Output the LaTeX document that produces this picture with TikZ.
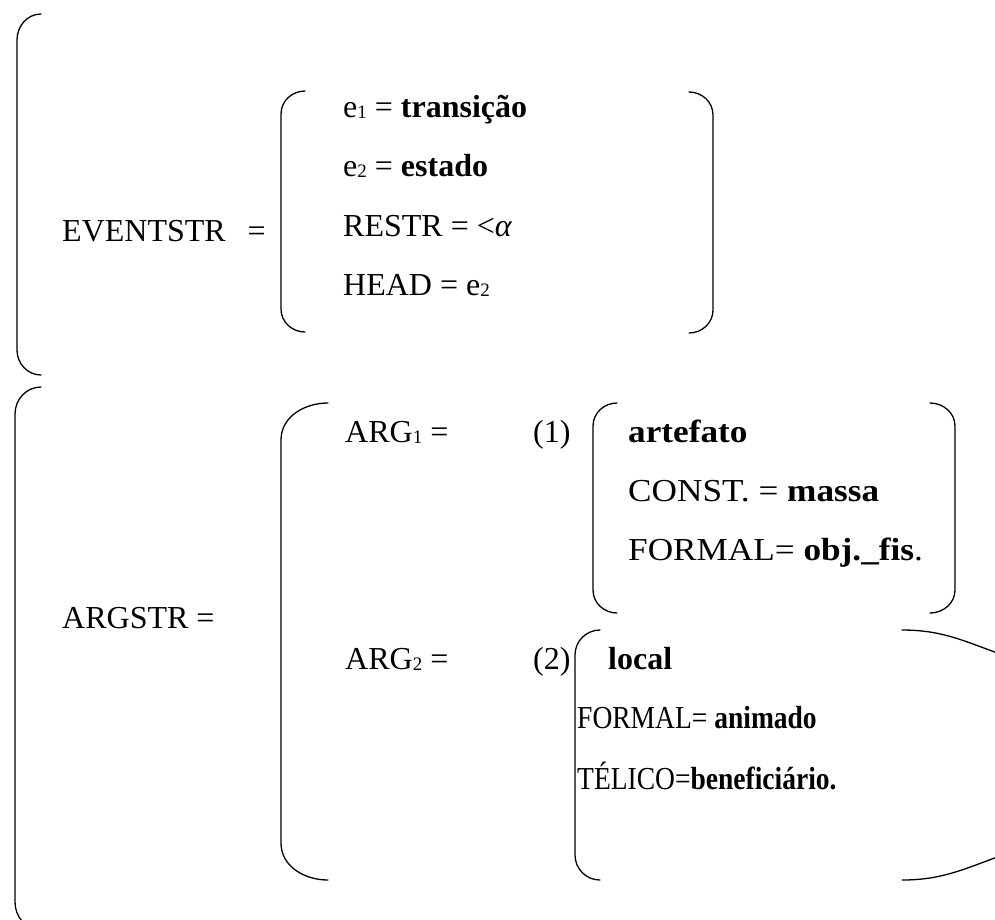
\documentclass[tikz,border=0pt]{standalone}
\usepackage{fontspec}
\setmainfont{Liberation Serif}
\newfontfamily\wideff[FakeStretch=1.1]{Liberation Serif}
\newfontfamily\narrowff[FakeStretch=0.86]{Liberation Serif}
\newcommand\sbs[1]{\raisebox{-1.5pt}{\fontsize{19}{19}\selectfont #1}}
\tikzset{
  lbl/.style={anchor=base west, inner sep=0pt, font=\fontsize{32}{38}\selectfont},
  brk/.style={line width=1.3pt, line cap=round},
}
\begin{document}
\begin{tikzpicture}[x=1pt,y=-1pt]
\useasboundingbox (0,0) rectangle (995,919);
\clip (0,0) rectangle (995,919);
% outer brackets
\draw[brk] (41,14) to[out=180,in=90] (17,40) -- (17,350) to[out=-90,in=180] (41,375);
\draw[brk] (41,387) to[out=180,in=90] (15,414) -- (15,902) to[out=-90,in=180] (41,930);
% EVENTSTR inner
\draw[brk] (305,91) to[out=180,in=90] (281,114) -- (281,309) to[out=-90,in=180] (305,332);
\draw[brk] (689,92) to[out=0,in=90] (713,115) -- (713,310) to[out=-90,in=0] (689,333);
% ARG big bracket
\draw[brk] (328,403) to[out=180,in=90] (281,440) -- (281,843) to[out=-90,in=180] (328,880);
% (1) bracket
\draw[brk] (617,403) to[out=180,in=90] (593,426) -- (593,590) to[out=-90,in=180] (617,613);
\draw[brk] (930,403) to[out=0,in=90] (955,426) -- (955,590) to[out=-90,in=0] (930,613);
% (2) bracket
\draw[brk] (600,630) to[out=180,in=90] (575,655) -- (575,855) to[out=-90,in=180] (600,880);
\draw[brk] (902,630) to[out=0,in=160] (1000,654);
\draw[brk] (902,880) to[out=0,in=-160] (1000,856);
% texts
\node[lbl] (ev) at (62,241) {EVENTSTR\hspace{22pt}=};
\node[lbl] (e1) at (343,117) {e\sbs{1} = \textbf{transição}};
\node[lbl] (e2) at (343,176) {e\sbs{2} = \textbf{estado}};
\node[lbl] (rs) at (343,236) {RESTR = <\textit{α}};
\node[lbl] (hd) at (343,295) {HEAD = e\sbs{2}};
\node[lbl] (as) at (62,628) {ARGSTR =};
\node[lbl] (a1) at (345,442) {ARG\sbs{1} =};
\node[lbl] (n1) at (533,442) {(1)};
\node[lbl] (t1) at (628,442) {\wideff\textbf{artefato}};
\node[lbl] (t2) at (628,501) {\wideff CONST. = \textbf{massa}};
\node[lbl] (t3) at (628,560) {\wideff FORMAL= \textbf{obj.\_fis}.};
\node[lbl] (a2) at (345,669) {ARG\sbs{2} =};
\node[lbl] (n2) at (533,669) {(2)};
\node[lbl] (u1) at (608,669) {\textbf{local}};
\node[lbl] (u2) at (577,728) {\narrowff FORMAL= \textbf{animado}};
\node[lbl] (u3) at (577,789) {\narrowff TÉLICO=\textbf{beneficiário.}};
\end{tikzpicture}
\end{document}
